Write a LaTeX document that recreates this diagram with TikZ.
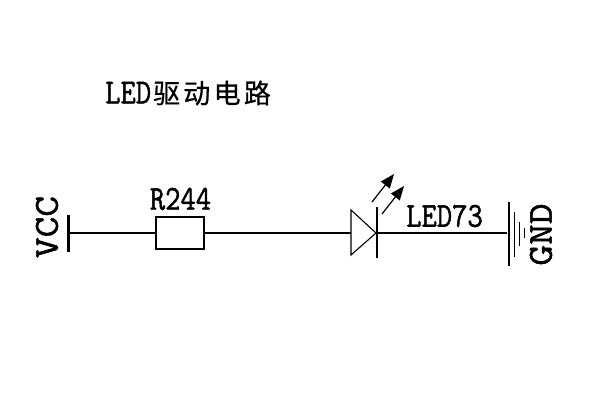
\documentclass[tikz,border=0pt]{standalone}
\usepackage{fontspec}
\usetikzlibrary{arrows.meta}
\setmainfont{Liberation Serif}
\newfontfamily\labelfont[FakeStretch=0.85,FakeBold=1.2]{Latin Modern Mono}
\newfontfamily\widefont[FakeStretch=1.15,FakeBold=1.6]{Latin Modern Mono}
\newfontfamily\cjk[LetterSpace=12,FakeBold=0.6]{Noto Sans CJK SC}
\tikzset{
 wire/.style={line width=1.5pt,line cap=butt},
 thinwire/.style={line width=1.1pt},
 lab/.style={inner sep=0pt,font=\labelfont\fontsize{35}{35}\selectfont},
 sidelab/.style={inner sep=0pt,rotate=90,font=\widefont\fontsize{35}{35}\selectfont},
 beam/.style={line width=1.2pt,-{Triangle[length=14pt,width=11pt]}},
}
\begin{document}
\begin{tikzpicture}[x=1pt,y=-1pt]
\useasboundingbox (0,0) rectangle (600,400);
\fill[white] (0,0) rectangle (600,400);
% title
\node[lab,anchor=west] (title) at (105,93) {LED{\cjk\fontsize{27}{27}\selectfont\kern2pt 驱动电路}};
% labels
\node[lab] (r) at (180.5,199) {R244};
\node[lab] (led) at (444.5,216) {LED73};
\node[sidelab] (vcc) at (47,227) {VCC};
\node[sidelab] (gnd) at (541,234.5) {GND};
% supply bar
\coordinate (vt) at (68,215);
\coordinate (vb) at (68,252);
\coordinate (vm) at (68,233);
\draw[line width=3pt] (vt) -- (vb);
% resistor
\node[draw,line width=1.4pt,minimum width=48pt,minimum height=32pt,inner sep=0pt,outer sep=0pt] (res) at (180,233) {};
% diode
\coordinate (da) at (351,233);
\coordinate (dk) at (376,233);
\coordinate (dt) at (351,210);
\coordinate (db) at (351,255);
\draw[thinwire,line join=miter] (dt) -- (dk) -- (db) -- cycle;
\coordinate (bt) at (377,207);
\coordinate (bb) at (377,258);
\draw[thinwire] (bt) -- (bb);
% light arrows
\coordinate (a1s) at (372,202);
\coordinate (a1e) at (394,174);
\coordinate (a2s) at (382,214);
\coordinate (a2e) at (404,186);
\draw[beam] (a1s) -- (a1e);
\draw[beam] (a2s) -- (a2e);
% ground
\coordinate (g1t) at (509,202);
\coordinate (g1b) at (509,266);
\coordinate (g2t) at (514,212);
\coordinate (g2b) at (514,257);
\coordinate (g3t) at (519,222);
\coordinate (g3b) at (519,246);
\coordinate (g4t) at (524,228);
\coordinate (g4b) at (524,238);
\coordinate (gm) at (507,233);
\draw[thinwire] (g1t) -- (g1b);
\draw[line width=.9pt] (g2t) -- (g2b);
\draw[line width=.9pt] (g3t) -- (g3b);
\draw[line width=.9pt] (g4t) -- (g4b);
% wires
\draw[wire] (vm) -- (res.west);
\draw[wire] (res.east) -- (da);
\draw[wire] (dk) -- (gm);
\end{tikzpicture}
\end{document}
